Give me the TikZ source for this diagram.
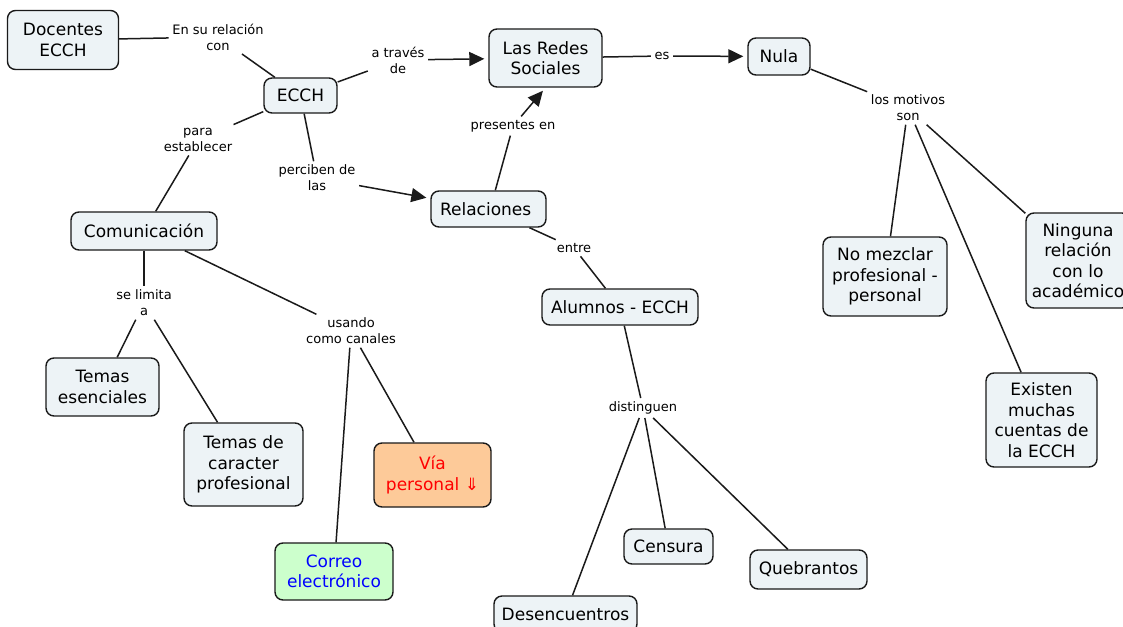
\documentclass[tikz,border=0pt]{standalone}
\usepackage{fontspec}
\setmainfont{DejaVu Sans}
\usetikzlibrary{arrows.meta}
\definecolor{boxfill}{HTML}{EDF3F6}
\definecolor{boxline}{HTML}{1A1A1A}
\definecolor{viafill}{HTML}{FDCA99}
\definecolor{correofill}{HTML}{CCFFCC}
\tikzset{
  concept/.style={draw=boxline, line width=1.4pt, rounded corners=8pt, fill=boxfill,
    align=center, inner sep=2pt, font=\fontsize{17}{20.5}\selectfont},
  linkword/.style={align=center, inner sep=3.5pt, font=\fontsize{13}{16}\selectfont},
  conn/.style={line width=1.5pt, draw=boxline},
  arr/.style={conn, -{Triangle[length=15pt,width=14pt]}, shorten >=4pt},
}
\begin{document}
\begin{tikzpicture}[x=1pt,y=-1pt]
\useasboundingbox (0,0) rectangle (1123,626);
\fill[white] (0,0) rectangle (1123,626);

% concepts
\node[concept, minimum width=111, minimum height=59] (doc)  at (63,40)     {Docentes\\ECCH};
\node[concept, minimum width=73,  minimum height=35] (ecch) at (300.5,95.5) {ECCH};
\node[concept, minimum width=113, minimum height=58] (redes) at (545.5,58) {Las Redes\\Sociales};
\node[concept, minimum width=62,  minimum height=37] (nula) at (779,56.5)  {Nula};
\node[concept, minimum width=115, minimum height=36] (rel)  at (488.5,209) {Relaciones\,\,};
\node[concept, minimum width=146, minimum height=38] (com)  at (144,231)   {Comunicación};
\node[concept, minimum width=156, minimum height=36] (alum) at (620,307)   {Alumnos - ECCH};
\node[concept, minimum width=124, minimum height=79] (nm)   at (885,276.5) {No mezclar\\profesional -\\personal};
\node[concept, minimum width=104, minimum height=95] (ning) at (1078,260.5) {Ninguna\\relación\\con lo\\académico};
\node[concept, minimum width=111, minimum height=94] (exi)  at (1041.5,420) {Existen\\muchas\\cuentas de\\la ECCH};
\node[concept, minimum width=113, minimum height=58] (te)   at (102.5,387) {Temas\\esenciales};
\node[concept, minimum width=119, minimum height=83] (tc)   at (243.5,464.5) {Temas de\\caracter\\profesional};
\node[concept, minimum width=117, minimum height=64, fill=viafill, text=red] (via) at (432.5,475) {Vía\\personal ⇓};
\node[concept, minimum width=118, minimum height=57, fill=correofill, text=blue] (cor) at (334,571.5) {Correo\\electrónico};
\node[concept, minimum width=143, minimum height=36] (des)  at (565.5,614) {Desencuentros};
\node[concept, minimum width=89,  minimum height=35] (cen)  at (668.5,546.5) {Censura};
\node[concept, minimum width=117, minimum height=39] (que)  at (808.5,569.5) {Quebrantos};

% linking words
\node[linkword] (l1)   at (218,37)  {En su relación\\con};
\node[linkword] (ltr)  at (398,60)  {a través\\de};
\node[linkword] (les)  at (662,56)  {es};
\node[linkword] (lpre) at (513,126) {presentes en};
\node[linkword] (lpar) at (198,140) {para\\establecer};
\node[linkword] (lper) at (317,178) {perciben de\\las};
\node[linkword] (lent) at (574,248) {entre};
\node[linkword] (lmot) at (908,108) {los motivos\\son};
\node[linkword] (llim) at (144,303) {se limita\\a};
\node[linkword] (lusa) at (351,331) {usando\\como canales};
\node[linkword] (ldis) at (643,408) {distinguen};

% connectors
\draw[conn] (doc) -- (l1);
\draw[conn] (l1) -- (ecch);
\draw[conn] (ecch) -- (ltr);
\draw[arr]  (ltr) -- (redes);
\draw[conn] (redes) -- (les);
\draw[arr]  (les) -- (nula);
\draw[conn] (rel.70) -- (lpre);
\draw[arr]  (lpre) -- (redes.south);
\draw[conn] (ecch) -- (lpar);
\draw[conn] (lpar) -- (com);
\draw[conn] (ecch) -- (lper);
\draw[arr]  (lper) -- (rel);
\draw[conn] (rel) -- (lent);
\draw[conn] (lent) -- (alum);
\draw[conn] (alum) -- (ldis);
\draw[conn] (ldis) -- (des);
\draw[conn] (ldis) -- (cen);
\draw[conn] (ldis) -- (que);
\draw[conn] (nula) -- (lmot);
\draw[conn] (lmot) -- (nm);
\draw[conn] (lmot) -- (exi);
\draw[conn] (lmot) -- (ning);
\draw[conn] (com) -- (llim);
\draw[conn] (llim) -- (te);
\draw[conn] (llim) -- (tc);
\draw[conn] (com) -- (lusa);
\draw[conn] (lusa) -- (cor);
\draw[conn] (lusa) -- (via);
\end{tikzpicture}
\end{document}
